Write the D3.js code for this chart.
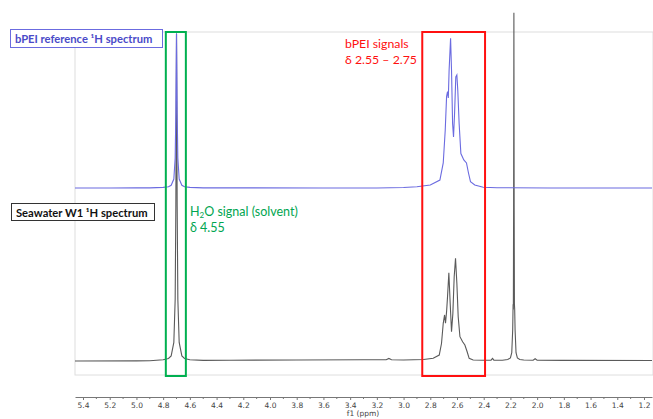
<!DOCTYPE html>
<html>
<head>
<meta charset="utf-8">
<script src="https://cdn.jsdelivr.net/npm/d3@7"></script>
<style>
  body { margin: 0; background: #fff; }
  svg { display: block; }
  .tick text { font-family: "DejaVu Sans", sans-serif; }
</style>
</head>
<body>
<div id="nmr"></div>
<script>
// ppm range shown and axis ticks
var ppmRange = [5.46, 1.14];
var majorTicks = [5.4, 5.2, 5.0, 4.8, 4.6, 4.4, 4.2, 4.0, 3.8, 3.6, 3.4, 3.2, 3.0, 2.8, 2.6, 2.4, 2.2, 2.0, 1.8, 1.6, 1.4, 1.2];
var minorTicks = [5.3, 5.1, 4.9, 4.7, 4.5, 4.3, 4.1, 3.9, 3.7, 3.5, 3.3, 3.1, 2.9, 2.7, 2.5, 2.3, 2.1, 1.9, 1.7, 1.5, 1.3];

// bPEI reference spectrum [ppm, intensity] (100 = tallest bPEI line)
var refSpectrum = [
  [5.46, 0], [5.2, 0], [5.0, 0.1], [4.90, 0.1], [4.80, 0.4], [4.76, 0.8], [4.74, 1.8], [4.72, 6],
  [4.71, 20], [4.705, 50], [4.700, 103], [4.695, 50], [4.69, 20], [4.68, 6], [4.66, 1.8],
  [4.64, 0.8], [4.60, 0.4], [4.5, 0.1], [4.2, 0.1], [3.6, 0], [3.2, 0], [3.0, 0.3], [2.9, 0.8],
  [2.80, 2], [2.728, 5.3], [2.703, 16.7], [2.688, 38.7], [2.678, 60.9], [2.671, 64.3],
  [2.665, 60], [2.659, 78.7], [2.648, 99.8], [2.641, 78.7], [2.633, 43], [2.626, 34],
  [2.618, 50], [2.609, 74], [2.601, 75.3], [2.594, 65], [2.584, 43], [2.571, 23],
  [2.549, 18.7], [2.529, 16.7], [2.514, 10], [2.499, 4.2], [2.467, 2], [2.404, 0.5],
  [2.3, 0.2], [1.9, 0], [1.14, 0]
];

// Seawater W1 spectrum [ppm, intensity] (100 = tallest bPEI line)
var seaSpectrum = [
  [5.46, 0], [5.0, 0.1], [4.90, 0.3], [4.80, 1.2], [4.76, 2.5], [4.74, 5], [4.72, 18],
  [4.71, 60], [4.705, 150], [4.700, 318], [4.695, 150], [4.69, 60], [4.68, 18], [4.66, 5],
  [4.64, 2.5], [4.60, 1.2], [4.5, 0.6], [4.3, 0.8], [3.8, 1], [3.3, 1.2], [3.13, 1.2],
  [3.11, 2.5], [3.09, 1.2], [3.0, 1], [2.85, 1.5], [2.778, 2.6], [2.733, 5.8], [2.716, 17],
  [2.703, 36.6], [2.693, 44.7], [2.686, 36.6], [2.678, 47.9], [2.671, 62], [2.661, 85.7],
  [2.651, 56], [2.641, 28.4], [2.631, 46], [2.621, 81.8], [2.611, 99.7], [2.601, 75.4],
  [2.591, 43], [2.578, 23.6], [2.558, 18.7], [2.541, 15.5], [2.524, 9], [2.509, 2.6],
  [2.479, 1], [2.404, 0.7], [2.345, 0.8], [2.334, 2.6], [2.324, 0.8], [2.26, 0.8],
  [2.22, 1.5], [2.2, 3], [2.19, 8], [2.183, 30], [2.180, 55], [2.178, 50], [2.176, 150],
  [2.174, 338], [2.172, 150], [2.170, 55], [2.168, 50], [2.165, 30], [2.158, 8],
  [2.148, 3], [2.13, 1.5], [2.10, 1], [2.03, 0.8], [2.015, 2.2], [2.0, 0.8], [1.8, 0.6],
  [1.14, 0.5]
];

// highlighted regions (ppm)
var waterRegion = [4.78, 4.63];
var bpeiRegion = [2.86, 2.39];

var width = 653,
    height = 419,
    plotTop = 32,
    plotBottom = 375,
    axisY = 397;

var svg = d3.select("#nmr").append("svg")
    .attr("width", width)
    .attr("height", height);

var x = d3.scaleLinear().domain(ppmRange).range([75, 652]);
var yRef = d3.scaleLinear().domain([0, 100]).range([188, 38]);
var ySea = d3.scaleLinear().domain([0, 100]).range([361, 258]);

// light frame
svg.append("rect")
    .attr("x", x(ppmRange[0]))
    .attr("y", plotTop)
    .attr("width", x(ppmRange[1]) - x(ppmRange[0]) + 1)
    .attr("height", plotBottom - plotTop)
    .attr("fill", "none")
    .attr("stroke", "#dedede")
    .attr("stroke-width", 1);

var lineRef = d3.line()
    .x(function(d) { return x(d[0]); })
    .y(function(d) { return yRef(d[1]); });

var lineSea = d3.line()
    .x(function(d) { return x(d[0]); })
    .y(function(d) { return ySea(d[1]); });

svg.append("path")
    .datum(seaSpectrum)
    .attr("d", lineSea)
    .attr("fill", "none")
    .attr("stroke", "#5a5a5a")
    .attr("stroke-width", 1.1);

svg.append("path")
    .datum(refSpectrum)
    .attr("d", lineRef)
    .attr("fill", "none")
    .attr("stroke", "#6b6be0")
    .attr("stroke-width", 1.1);

// region boxes
var boxes = [
    { range: waterRegion, color: "#00b050" },
    { range: bpeiRegion, color: "#ff1010" }
];
svg.selectAll("rect.region")
    .data(boxes)
    .enter().append("rect")
    .classed("region", true)
    .attr("x", function(d) { return x(d.range[0]); })
    .attr("y", plotTop)
    .attr("width", function(d) { return x(d.range[1]) - x(d.range[0]); })
    .attr("height", plotBottom - plotTop + 1)
    .attr("fill", "none")
    .attr("stroke", function(d) { return d.color; })
    .attr("stroke-width", 2);

// axis
var axis = d3.axisBottom(x)
    .tickValues(majorTicks)
    .tickSize(3)
    .tickSizeOuter(0)
    .tickFormat(d3.format(".1f"));

var gAxis = svg.append("g")
    .attr("transform", "translate(0," + axisY + ")")
    .call(axis);

gAxis.select(".domain").attr("stroke", "#777");
gAxis.selectAll(".tick line").attr("stroke", "#777");
gAxis.selectAll(".tick text")
    .attr("fill", "#444")
    .attr("font-size", 7.5)
    .attr("y", 6);

gAxis.selectAll("line.minor")
    .data(minorTicks)
    .enter().append("line")
    .classed("minor", true)
    .attr("x1", function(d) { return x(d); })
    .attr("x2", function(d) { return x(d); })
    .attr("y1", 0)
    .attr("y2", 2)
    .attr("stroke", "#777");

svg.append("text")
    .attr("x", 363)
    .attr("y", 416)
    .attr("text-anchor", "middle")
    .attr("font-family", "DejaVu Sans, sans-serif")
    .attr("font-size", 7.5)
    .attr("fill", "#444")
    .text("f1 (ppm)");

// spectrum labels
var labelFont = "Lato, 'Open Sans', sans-serif";

svg.append("rect")
    .attr("x", 10.5).attr("y", 29.5)
    .attr("width", 152).attr("height", 18)
    .attr("fill", "#fff")
    .attr("stroke", "#6b6be0")
    .attr("stroke-width", 1);

svg.append("text")
    .attr("x", 15).attr("y", 43)
    .attr("font-family", labelFont)
    .attr("font-weight", "bold")
    .attr("font-size", 11.2)
    .attr("fill", "#4a4ac8")
    .text("bPEI reference ¹H spectrum");

svg.append("rect")
    .attr("x", 11.5).attr("y", 203.5)
    .attr("width", 143).attr("height", 17)
    .attr("fill", "#fff")
    .attr("stroke", "#333")
    .attr("stroke-width", 1);

svg.append("text")
    .attr("x", 16).attr("y", 216.5)
    .attr("font-family", labelFont)
    .attr("font-weight", "bold")
    .attr("font-size", 11.2)
    .attr("fill", "#111")
    .text("Seawater W1 ¹H spectrum");

// annotations
var h2o = svg.append("text")
    .attr("x", 190).attr("y", 216)
    .attr("font-family", labelFont)
    .attr("font-size", 12.5)
    .attr("fill", "#00a550");
h2o.append("tspan").text("H");
h2o.append("tspan").attr("font-size", 8).attr("dy", 2).text("2");
h2o.append("tspan").attr("dy", -2).text("O signal (solvent)");

svg.append("text")
    .attr("x", 190).attr("y", 232)
    .attr("font-family", labelFont)
    .attr("font-size", 12.5)
    .attr("fill", "#00a550")
    .text("δ 4.55");

svg.append("text")
    .attr("x", 345).attr("y", 48)
    .attr("font-family", labelFont)
    .attr("font-size", 12.3)
    .attr("fill", "#ff1010")
    .text("bPEI signals");

svg.append("text")
    .attr("x", 345).attr("y", 63.5)
    .attr("font-family", labelFont)
    .attr("font-size", 12.3)
    .attr("fill", "#ff1010")
    .text("δ 2.55 – 2.75");
</script>
</body>
</html>
